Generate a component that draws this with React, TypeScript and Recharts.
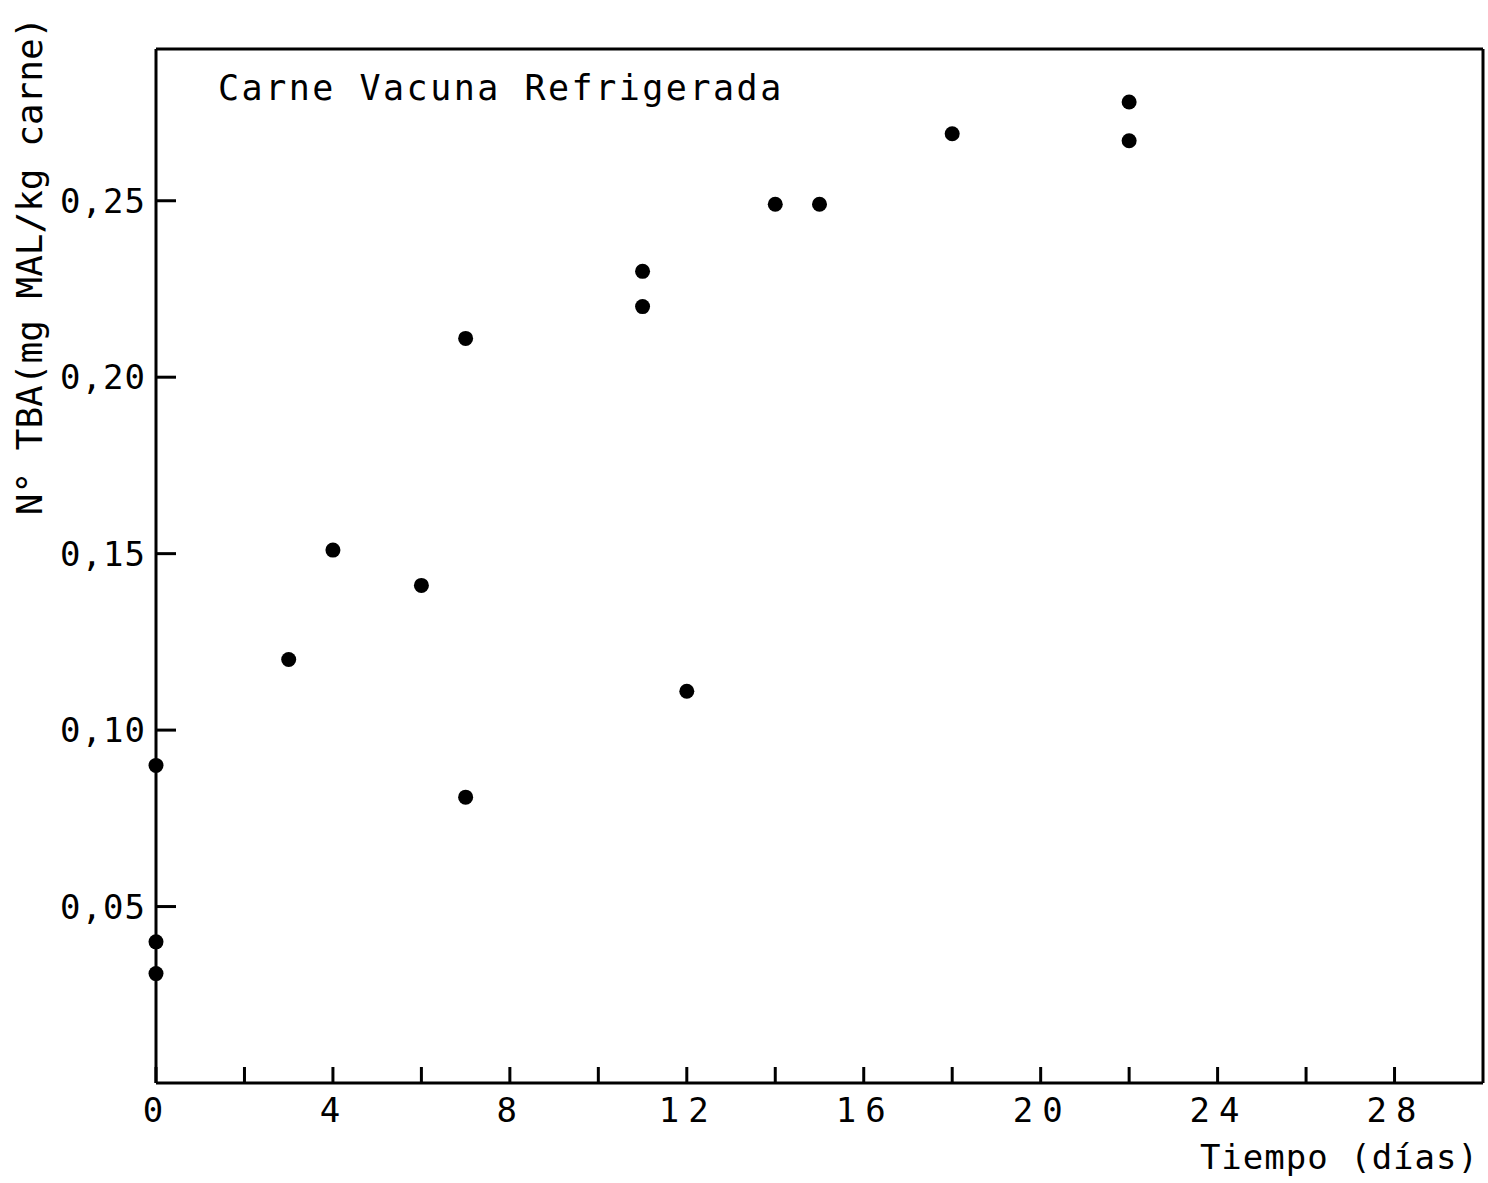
import React from 'react';
import { ScatterChart, Scatter, XAxis, YAxis, ReferenceLine, Customized } from 'recharts';

// Data
const dias = [0, 0, 0, 3, 4, 6, 7, 7, 11, 11, 12, 14, 15, 18, 22, 22];
const tba = [0.09, 0.04, 0.031, 0.12, 0.151, 0.141, 0.211, 0.081, 0.23, 0.22, 0.111, 0.249, 0.249, 0.269, 0.278, 0.267];

const xTicks = [0, 2, 4, 6, 8, 10, 12, 14, 16, 18, 20, 22, 24, 26, 28];
const xLabelled = [0, 4, 8, 12, 16, 20, 24, 28];
const yTicks = [0.05, 0.1, 0.15, 0.2, 0.25];

const titleText = 'Carne Vacuna Refrigerada';
const xTitle = 'Tiempo (días)';
const yTitle = 'N° TBA(mg MAL/kg carne)';

const X_MAX = 30;
const Y_MAX = 0.293;

const FONT = '"DejaVu Sans Mono", monospace';

const points = dias.map((d, i) => ({ dia: d, tba: tba[i] }));

const XTick = (props: any) => {
  const { x, y, payload } = props;
  const v = payload.value;
  if (!xLabelled.includes(v)) return null;
  const ls = 9;
  return (
    <text x={x + ls / 2 - 3} y={y} dy="0.71em" textAnchor="middle" fontSize={34} fontFamily={FONT} fill="#000" letterSpacing={ls}>
      {String(v)}
    </text>
  );
};

const YTick = (props: any) => {
  const { x, y, payload } = props;
  const v: number = payload.value;
  const label = v.toFixed(2).replace('.', ',');
  const ls = 1;
  return (
    <text x={x + ls} y={y} dy="0.355em" textAnchor="end" fontSize={34} fontFamily={FONT} fill="#000" letterSpacing={ls}>
      {label}
    </text>
  );
};

const Texts = () => (
  <g>
    <text x={218} y={100} fontSize={35} fontFamily={FONT} fill="#000" letterSpacing={2.5}>
      {titleText}
    </text>
    <text x={1479} y={1169} textAnchor="end" fontSize={34} fontFamily={FONT} fill="#000" letterSpacing={1}>
      {xTitle}
    </text>
    <text transform="translate(42, 266) rotate(-90)" textAnchor="middle" fontSize={36} fontFamily={FONT} fill="#000">
      {yTitle}
    </text>
  </g>
);

const Dot = (props: any) => <circle cx={props.cx} cy={props.cy} r={7.5} fill="#000" />;

export default function App() {
  return (
    <div style={{ position: 'absolute', left: 0, top: 0, width: 1488, height: 1183, background: '#fff' }}>
      <ScatterChart width={1488} height={1183} margin={{ top: 49, right: 5, bottom: 0, left: 0 }}>
        <XAxis
          type="number"
          dataKey="dia"
          domain={[0, X_MAX]}
          ticks={xTicks}
          interval={0}
          height={100}
          tickSize={-16}
          tickMargin={31}
          axisLine={{ stroke: '#000', strokeWidth: 3 }}
          tickLine={{ stroke: '#000', strokeWidth: 3 }}
          tick={<XTick />}
        />
        <YAxis
          type="number"
          dataKey="tba"
          domain={[0, Y_MAX]}
          ticks={yTicks}
          interval={0}
          width={156}
          tickSize={-20}
          tickMargin={31}
          axisLine={{ stroke: '#000', strokeWidth: 3 }}
          tickLine={{ stroke: '#000', strokeWidth: 3 }}
          tick={<YTick />}
        />
        <ReferenceLine y={Y_MAX} stroke="#000" strokeWidth={3} />
        <ReferenceLine x={X_MAX} stroke="#000" strokeWidth={3} />
        <Scatter data={points} shape={<Dot />} isAnimationActive={false} />
        <Customized component={Texts} />
      </ScatterChart>
    </div>
  );
}
